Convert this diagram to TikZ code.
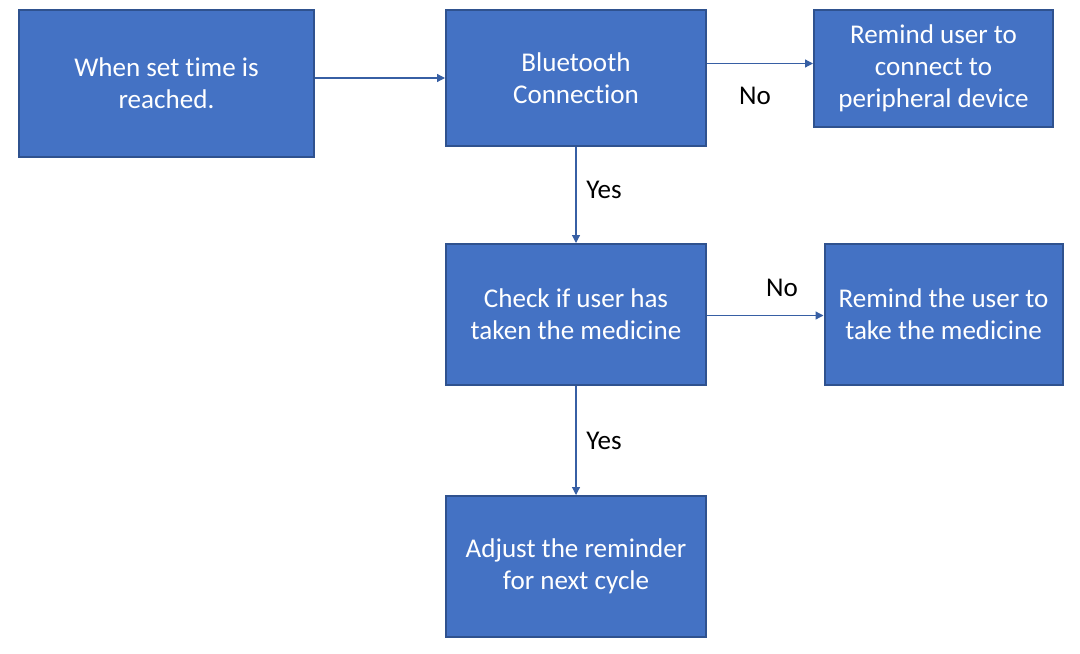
\documentclass[tikz,border=0pt]{standalone}
\usepackage{fontspec}
\setmainfont[Ligatures=NoCommon]{Carlito}
\usetikzlibrary{arrows.meta}
\definecolor{boxfill}{HTML}{4472C4}
\definecolor{boxline}{HTML}{2F528F}
\begin{document}
\begin{tikzpicture}[x=0.75pt,y=-0.75pt,
  flowbox/.style={draw=boxline,fill=boxfill,line width=1.5pt,text=white,
    align=center,font=\fontsize{20.3pt}{24pt}\selectfont,inner sep=0pt},
  conn/.style={draw=boxline!60!boxfill,line width=0.9pt,-{Triangle[length=6pt,width=6pt]}},
  lbl/.style={font=\fontsize{20.3pt}{24pt}\selectfont,text=black,inner sep=0pt}]
\useasboundingbox (0,0) rectangle (1080,653);
% boxes: corners given in pixels
\node[flowbox,minimum width=295*0.75pt,minimum height=147*0.75pt] (start) at (166.5,83.5) {When set time is\\reached.};
\node[flowbox,minimum width=260*0.75pt,minimum height=136*0.75pt] (bt) at (576,78) {Bluetooth\\Connection};
\node[flowbox,minimum width=239*0.75pt,minimum height=117*0.75pt] (conn) at (933.5,68.5) {Remind user to\\connect to\\peripheral device};
\node[flowbox,minimum width=260*0.75pt,minimum height=141*0.75pt] (check) at (576,314.5) {Check if user has\\taken the medicine};
\node[flowbox,minimum width=238*0.75pt,minimum height=141*0.75pt] (take) at (943.5,314.5) {Remind the user to\\take the medicine};
\node[flowbox,minimum width=260*0.75pt,minimum height=141*0.75pt] (adjust) at (576,566.5) {Adjust the reminder\\for next cycle};
% connectors
\draw[conn] (start.east |- 0,78) -- (bt.west |- 0,78);
\draw[conn] (bt.east |- 0,63.5) -- (conn.west |- 0,63.5);
\draw[conn] (bt.south) -- (check.north);
\draw[conn] (check.east |- 0,315.5) -- (take.west |- 0,315.5);
\draw[conn] (check.south) -- (adjust.north);
% labels
\node[lbl] (no1) at (755,96) {No};
\node[lbl] (yes1) at (604,190) {Yes};
\node[lbl] (no2) at (782,288) {No};
\node[lbl] (yes2) at (604,441) {Yes};
\end{tikzpicture}
\end{document}
